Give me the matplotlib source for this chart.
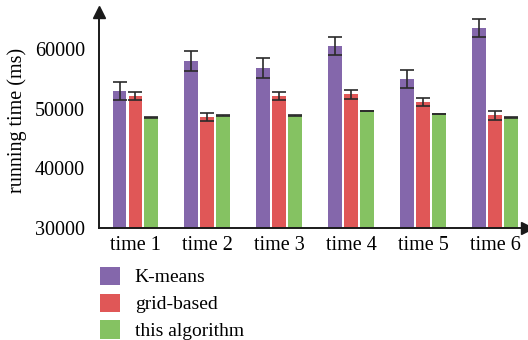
import numpy as np
import matplotlib.pyplot as plt
from matplotlib.patches import Patch

# values
groups = ['time 1', 'time 2', 'time 3', 'time 4', 'time 5', 'time 6']
kmeans = [52950, 57970, 56800, 60480, 54960, 63500]
kmeans_err = [1500, 1600, 1600, 1530, 1530, 1540]
grid = [52100, 48590, 52060, 52390, 51100, 48870]
grid_err = [640, 670, 670, 730, 700, 700]
ours = [48540, 48800, 48800, 49600, 49100, 48540]
ours_err = [60, 60, 60, 60, 60, 60]
series_names = ['K-means', 'grid-based', 'this algorithm']

colors = ['#8467AB', '#E05757', '#85C262']

plt.rcParams['font.family'] = ['Liberation Serif', 'DejaVu Serif']
plt.rcParams['font.size'] = 14.5

fig = plt.figure(figsize=(5.28, 3.40), dpi=100)
ax = fig.add_axes([99 / 528, 112 / 340, 428 / 528, 216 / 340])

x = np.arange(len(groups))
w = 0.194
step = 0.222
for i, (vals, errs) in enumerate([(kmeans, kmeans_err), (grid, grid_err), (ours, ours_err)]):
    ax.bar(x + (i - 1) * step, vals, w, color=colors[i], yerr=errs,
           error_kw=dict(ecolor='#2a2a2a', elinewidth=1.2, capsize=5, capthick=1.2))

ax.set_ylim(30000, 66180)
ax.set_xlim(-0.507, 5.44)
ax.set_yticks([30000, 40000, 50000, 60000])
ax.set_xticks(x)
ax.set_xticklabels(groups)
ax.tick_params(length=0)
ax.tick_params(axis='y', pad=10)
ax.tick_params(axis='x', pad=6)
ax.set_ylabel('running time (ms)', labelpad=6)

for s in ['top', 'right']:
    ax.spines[s].set_visible(False)
for s in ['left', 'bottom']:
    ax.spines[s].set_linewidth(1.4)
    ax.spines[s].set_color('#1a1a1a')
ax.plot(0, 1, '^', color='#1a1a1a', markersize=9, transform=ax.transAxes, clip_on=False)
ax.plot(1, 0, '>', color='#1a1a1a', markersize=9, transform=ax.transAxes, clip_on=False)

handles = [Patch(facecolor=c) for c in colors]
fig.legend(handles, series_names, loc='upper left', bbox_to_anchor=(92 / 528, 1 - 259 / 340),
           frameon=False, handlelength=1.05, handleheight=1.05, handletextpad=0.75,
           labelspacing=0.37, borderaxespad=0, fontsize=14)

fig.savefig('out.png', dpi=100)
